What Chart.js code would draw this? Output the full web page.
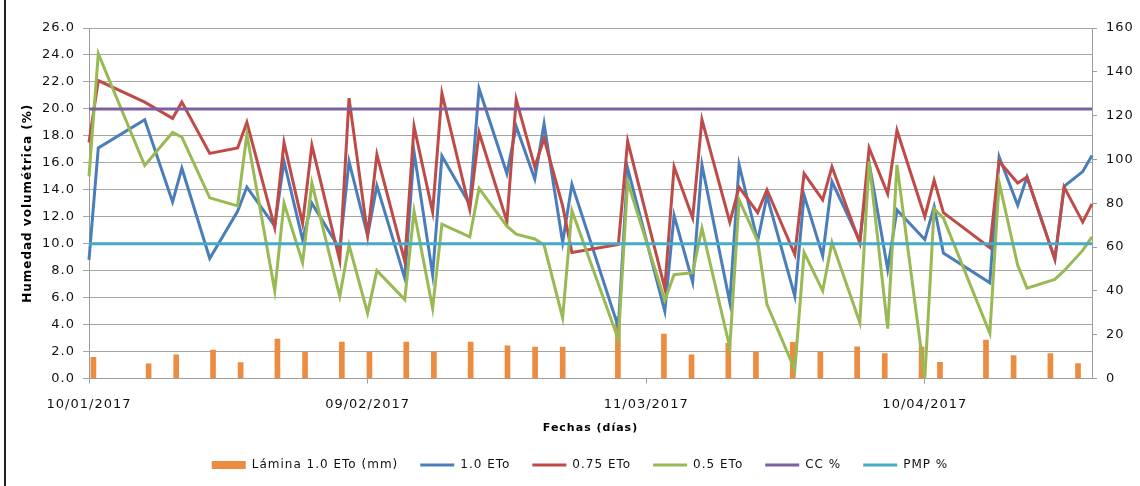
<!DOCTYPE html>
<html><head><meta charset="utf-8">
<script src="https://cdn.jsdelivr.net/npm/chart.js@4/dist/chart.umd.min.js"></script>
<style>html,body{margin:0;padding:0;background:#fff}#wrap{width:1140px;height:486px;position:relative}</style>
</head><body><div id="wrap"><canvas id="c" width="1140" height="486"></canvas></div>
<script>
// days since 10/01/2017
const days = [0,1,6,9,10,13,16,17,20,21,23,24,27,28,30,31,34,35,37,38,41,42,45,46,48,49,51,52,57,58,62,63,65,66,69,70,72,73,76,77,79,80,83,84,86,87,90,91,92,97,98,100,101,104,105,107,108];
const eto100 = [8.8,17.1,19.2,13.1,15.6, 8.9,12.4,14.2,11.3,16.1, 10.3,13.0,9.6,16.1,10.6, 14.3,7.45,16.8,7.7,16.5, 12.9,21.5,15.2,18.7,14.8, 18.9,10.1,14.4,3.8,15.6, 5.0,12.1,7.15,15.85,5.65, 15.85,10.2,13.55,6.1,13.6, 9.1,14.6,10.2,16.0,8.1, 12.5,10.3,12.75,9.3,7.1, 16.45,12.85,14.95,8.85,14.25, 15.35,16.55];
const eto75 = [17.5,22.1,20.5,19.3,20.5, 16.7,17.1,19.0,11.2,17.5, 11.5,17.3,8.75,20.8,10.65, 16.6,8.7,18.7,12.35,21.15, 12.55,18.25,11.65,20.7,15.7, 17.8,12.8,9.35,9.95,17.6, 6.7,15.7,11.9,19.2,11.6, 14.2,12.3,14.0,9.2,15.2, 13.25,15.7,10.05,17.1,13.7, 18.4,12.0,14.7,12.3,9.7, 16.1,14.5,14.95,8.85,14.2, 11.6,12.95];
const eto50 = [15.0,24.1,15.8,18.25,17.9, 13.4,12.8,18.1,6.5,13.0, 8.6,14.5,6.1,9.9,4.85, 8.0,5.85,12.4,5.2,11.45, 10.5,14.1,11.3,10.7,10.35, 9.9,4.5,12.45,2.9,14.6, 5.8,7.7,7.85,11.15,2.3, 13.25,10.2,5.5,0.65,9.35, 6.5,10.1,4.15,16.1,3.7, 15.85,0.0,12.6,11.9,3.35, 14.55,8.4,6.7,7.35,8.0, 9.5,10.5];
const laminaDays = [0,6,9,13,16,20,23,27,30,34,37,41,45,48,51,57,62,65,69,72,76,79,83,86,90,92,97,100,104,107];
const laminaMm = [9.7,6.7,10.8,13.0,7.3,18.0,12.2,16.6,12.1,16.6,12.2,16.6,14.9,14.3,14.3,28.3,20.3,10.8,16.0,12.2,16.5,12.0,14.5,11.4,14.5,7.4,17.5,10.5,11.4,6.8];
const ccValue = 20;
const pmpValue = 10;
const xTickDays = [0,30,60,90];
const xTickLabels = ['10/01/2017','09/02/2017','11/03/2017','10/04/2017'];
const seriesNames = ['Lámina 1.0 ETo (mm)','1.0 ETo','0.75 ETo','0.5 ETo','CC %','PMP %'];
const colors = ['#EB8C41','#4A7EBB','#BE4B48','#98B954','#7D60A0','#46AAC5'];

Chart.defaults.font.family = "'DejaVu Sans', sans-serif";
Chart.defaults.color = '#111';

const firstDay = days[0], lastDay = days[days.length-1];
function lineDs(i, values, order){
  return {type:'line', label: seriesNames[i], data: days.map((d,k)=>({x:d,y:values[k]})),
    borderColor: colors[i], backgroundColor: colors[i], borderWidth: 3, pointRadius: 0, pointHoverRadius:0,
    pointStyle:'line', tension: 0, xAxisID:'x', yAxisID:'y', clip:false, order};
}
function constDs(i, v, order){
  return {type:'line', label: seriesNames[i], data: [{x:firstDay,y:v},{x:lastDay,y:v}],
    borderColor: colors[i], backgroundColor: colors[i], borderWidth: 3, pointRadius: 0,
    pointStyle:'line', xAxisID:'x', yAxisID:'y', order};
}
const spacing = {
  id:'spacing',
  afterInit(chart){ chart.ctx.letterSpacing = '1px'; },
  beforeUpdate(chart){ chart.ctx.letterSpacing = '1px'; },
  beforeDraw(chart){ chart.ctx.letterSpacing = '1px'; },
  afterDraw(chart){ const c = chart.ctx; c.save(); c.fillStyle = '#222'; c.fillRect(4,0,2,486); c.restore(); }
};
new Chart(document.getElementById('c'), {
  data: { datasets: [
    {type:'bar', label: seriesNames[0], data: laminaDays.map((d,k)=>({x:d,y:laminaMm[k]})),
      backgroundColor: colors[0], borderColor: colors[0], borderWidth:0, barThickness:5, pointStyle:'rect',
      xAxisID:'x2', yAxisID:'y2', order:6},
    lineDs(1, eto100, 5), lineDs(2, eto75, 4), lineDs(3, eto50, 3),
    constDs(4, ccValue, 2), constDs(5, pmpValue, 1)
  ]},
  options: {
    responsive:false, animation:false, devicePixelRatio:1,
    layout:{ padding:{left:20, right:0, top:28, bottom:5} },
    plugins:{
      tooltip:{enabled:false},
      legend:{ position:'bottom', labels:{ usePointStyle:true, pointStyleWidth:34, boxHeight:8, padding:22,
        font:{size:12}, color:'#111', sort:(a,b)=>a.datasetIndex-b.datasetIndex } }
    },
    scales:{
      x:{ type:'linear', position:'bottom', min:firstDay, max:lastDay, offset:false,
        afterBuildTicks: s => { s.ticks = xTickDays.map(v=>({value:v})); },
        ticks:{ callback:(v,i)=>xTickLabels[i], font:{size:13}, padding:13, maxRotation:0, autoSkip:false, color:'#111' },
        grid:{ drawOnChartArea:false, drawTicks:true, tickLength:5, color:'#9d9d9d', offset:false },
        border:{ color:'#9d9d9d', width:1 },
        title:{ display:true, text:'Fechas (días)', font:{size:11, weight:'bold'}, padding:{top:0,bottom:2}, color:'#000' },
        afterFit: s => { s.height = 58.5; } },
      x2:{ type:'linear', display:false, offset:false, min:firstDay-0.75, max:lastDay+0.25, grid:{offset:false} },
      y:{ position:'left', min:0, max:26,
        ticks:{ stepSize:2, callback:v=>v.toFixed(1), font:{size:13}, padding:8, color:'#111' },
        grid:{ color:'#a6a6a6', tickLength:6 }, border:{ color:'#9d9d9d' },
        title:{ display:true, text:'Humedad volumétrica (%)', font:{size:12, weight:'bold'}, padding:{top:1,bottom:0}, color:'#000' },
        afterFit: s => { s.width = 69; } },
      y2:{ position:'right', min:0, max:160,
        ticks:{ stepSize:20, font:{size:13}, padding:9, color:'#111' },
        grid:{ drawOnChartArea:false, tickLength:5, color:'#9d9d9d' }, border:{ color:'#9d9d9d' },
        afterFit: s => { s.width = 48; } }
    }
  },
  plugins:[spacing]
});
</script></body></html>
